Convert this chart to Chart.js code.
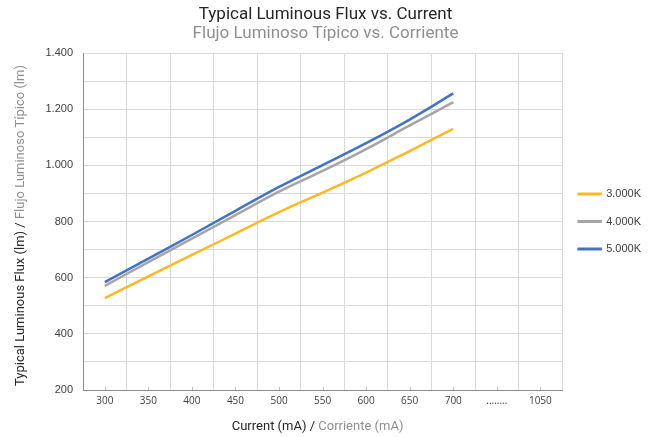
<!DOCTYPE html>
<html>
<head>
    <title>Typical Luminous Flux vs. Current</title>
    <style>
        body { margin: 0; background: #fff; overflow: hidden; }
        #wrap { width: 651px; height: 437px; position: relative; }
    </style>
</head>
<body>
    <div id="wrap">
        <canvas id="flux-chart"></canvas>
    </div>

    <script src="https://cdn.jsdelivr.net/npm/chart.js"></script>
    <script>
        // Data
        const currents = ['300', '350', '400', '450', '500', '550', '600', '650', '700', '........', '1050'];
        const flux3000 = [527, 605, 681, 757, 833, 903, 974, 1051, 1130, null, null];
        const flux4000 = [571, 655, 739, 823, 906, 980, 1058, 1142, 1225, null, null];
        const flux5000 = [584, 668, 752, 838, 923, 1001, 1079, 1163, 1256, null, null];
        const seriesNames = ['3.000K', '4.000K', '5.000K'];
        const seriesColors = ['#FBB927', '#A5A5A5', '#4472C4'];

        const dark = '#262626';
        const grey = '#8f8f8f';

        // draws an axis title in two colours
        function twoTone(ctx, parts, cx, cy, rotate) {
            ctx.save();
            ctx.font = '13px Roboto';
            ctx.textBaseline = 'middle';
            ctx.textAlign = 'left';
            ctx.translate(cx, cy);
            if (rotate) ctx.rotate(-Math.PI / 2);
            const total = parts.reduce((s, p) => s + ctx.measureText(p[0]).width, 0);
            let x = -total / 2;
            parts.forEach(p => {
                ctx.fillStyle = p[1];
                ctx.fillText(p[0], x, 0);
                x += ctx.measureText(p[0]).width;
            });
            ctx.restore();
        }

        const axisTitles = {
            id: 'axisTitles',
            afterDraw(chart) {
                const ctx = chart.ctx;
                const area = chart.chartArea;
                const xs = chart.scales.x;
                // small inner tick marks at category centres
                ctx.save();
                ctx.strokeStyle = '#bfbfbf';
                ctx.lineWidth = 1;
                xs.ticks.forEach((t, i) => {
                    const px = Math.round(xs.getPixelForTick(i)) + 0.5;
                    ctx.beginPath();
                    ctx.moveTo(px, area.bottom);
                    ctx.lineTo(px, area.bottom - 3);
                    ctx.stroke();
                });
                ctx.restore();

                twoTone(ctx, [['Current (mA) / ', dark], ['Corriente (mA)', grey]],
                    (area.left + area.right) / 2 - 5, 427, false);
                twoTone(ctx, [['Typical Luminous Flux (lm) / ', dark], ['Flujo Luminoso Típico (lm)', grey]],
                    21, (area.top + area.bottom) / 2 + 4, true);
            }
        };

        const datasets = [flux3000, flux4000, flux5000].map((vals, i) => ({
            label: seriesNames[i],
            data: vals,
            borderColor: seriesColors[i],
            backgroundColor: seriesColors[i],
            borderWidth: 2.5,
            pointRadius: 0,
            tension: 0.4,
            fill: false
        }));

        const ctx = document.getElementById('flux-chart').getContext('2d');
        const chart = new Chart(ctx, {
            type: 'line',
            data: { labels: currents, datasets: datasets },
            plugins: [axisTitles],
            options: {
                responsive: true,
                maintainAspectRatio: false,
                animation: false,
                layout: { padding: { left: 0, right: 0, top: 0, bottom: 25 } },
                plugins: {
                    title: {
                        display: true,
                        text: 'Typical Luminous Flux vs. Current',
                        color: dark,
                        font: { family: 'Roboto', size: 17, weight: 'normal', lineHeight: 1.1 },
                        padding: { top: 5.6, bottom: 0 }
                    },
                    subtitle: {
                        display: true,
                        text: 'Flujo Luminoso Típico vs. Corriente',
                        color: grey,
                        font: { family: 'Roboto', size: 17, weight: 'normal', lineHeight: 1.1 },
                        padding: { top: 0, bottom: 10 }
                    },
                    legend: {
                        position: 'right',
                        fullSize: false,
                        maxWidth: 90,
                        labels: {
                            boxWidth: 22,
                            boxHeight: 0.5,
                            padding: 16.5,
                            color: '#404040',
                            font: { family: 'Liberation Sans', size: 11 }
                        }
                    },
                    tooltip: { enabled: false }
                },
                scales: {
                    x: {
                        offset: true,
                        grid: { offset: true, color: '#d9d9d9', drawTicks: false },
                        border: { color: '#8c8c8c' },
                        ticks: {
                            padding: 5,
                            color: '#404040',
                            font: { family: 'Open Sans', size: 10 },
                            maxRotation: 0,
                            autoSkip: false
                        }
                    },
                    y: {
                        min: 200,
                        max: 1400,
                        // room on the left for the drawn axis title
                        afterFit: scale => { scale.width += 35.5; },
                        grid: { color: '#d9d9d9', drawTicks: false },
                        border: { color: '#8c8c8c' },
                        ticks: {
                            stepSize: 100,
                            padding: 10,
                            color: '#404040',
                            font: { family: 'Liberation Sans', size: 11 },
                            callback: v => v % 200 === 0 ? String(v).replace(/\B(?=(\d{3})+(?!\d))/g, '.') : ''
                        }
                    }
                }
            }
        });
    </script>
</body>
</html>
